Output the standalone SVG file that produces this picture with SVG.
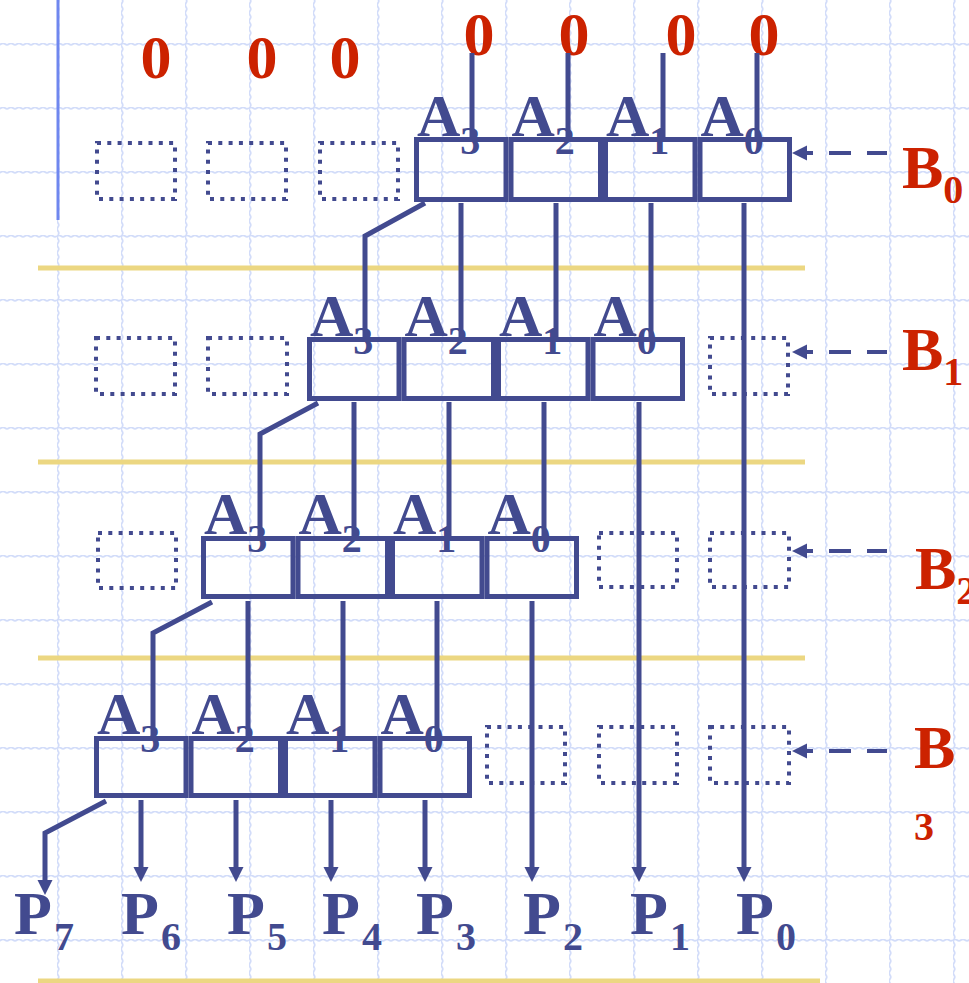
<svg xmlns="http://www.w3.org/2000/svg" width="969" height="983" viewBox="0 0 969 983">
<style>
.cell{fill:none;stroke:#424a8f;stroke-width:5}
.dot{fill:none;stroke:#424a8f;stroke-width:4;stroke-dasharray:4 6.3}
.wire{fill:none;stroke:#424a8f;stroke-width:5}
.barrow{fill:none;stroke:#424a8f;stroke-width:4;stroke-dasharray:20 16 22 16 20}
.sep{stroke:#ecd782;stroke-width:5}
.lbl{font-family:"Liberation Serif","Times New Roman",serif;font-weight:bold;fill:#424a8f}
.red{font-family:"Liberation Serif","Times New Roman",serif;font-weight:bold;fill:#cc2200}
.gl{fill:none;stroke:#d2dcf9;stroke-width:1.8}
</style>
<defs>
<pattern id="grid" patternUnits="userSpaceOnUse" x="57" y="43" width="64" height="64">
<path class="gl" d="M0,1 q2,-1.5 4,0 t4,0 t4,0 t4,0 t4,0 t4,0 t4,0 t4,0 t4,0 t4,0 t4,0 t4,0 t4,0 t4,0 t4,0 t4,0"/>
<path class="gl" d="M1,0 q-1.5,2 0,4 t0,4 t0,4 t0,4 t0,4 t0,4 t0,4 t0,4 t0,4 t0,4 t0,4 t0,4 t0,4 t0,4 t0,4 t0,4"/>
</pattern>
<marker id="ah" markerUnits="userSpaceOnUse" markerWidth="16" markerHeight="16" refX="7" refY="7.5" orient="auto">
<path d="M0,0 L15,7.5 L0,15 z" fill="#424a8f"/>
</marker>
</defs>
<rect width="969" height="983" fill="#ffffff"/>
<rect width="969" height="983" fill="url(#grid)"/>
<line x1="58" y1="0" x2="58" y2="220" stroke="#6f87ef" stroke-width="3"/>
<g id="separators">
<line class="sep" x1="38" y1="268" x2="805" y2="268"/>
<line class="sep" x1="38" y1="462" x2="805" y2="462"/>
<line class="sep" x1="38" y1="658" x2="805" y2="658"/>
<line class="sep" x1="38" y1="981" x2="820" y2="981"/>
</g>
<g id="zeros">
<text class="red" font-size="62" text-anchor="middle" x="156" y="78">0</text>
<text class="red" font-size="62" text-anchor="middle" x="262" y="78">0</text>
<text class="red" font-size="62" text-anchor="middle" x="345" y="78">0</text>
<text class="red" font-size="62" text-anchor="middle" x="479" y="55">0</text>
<text class="red" font-size="62" text-anchor="middle" x="574" y="55">0</text>
<text class="red" font-size="62" text-anchor="middle" x="681" y="55">0</text>
<text class="red" font-size="62" text-anchor="middle" x="764" y="55">0</text>
</g>
<g id="placeholders">
<rect class="dot" x="97" y="143" width="78" height="56"/>
<rect class="dot" x="208" y="143" width="78" height="56"/>
<rect class="dot" x="320" y="143" width="78" height="56"/>
<rect class="dot" x="96" y="338" width="79" height="56"/>
<rect class="dot" x="208" y="338" width="79" height="56"/>
<rect class="dot" x="710" y="338" width="78" height="56"/>
<rect class="dot" x="98" y="533" width="78" height="55"/>
<rect class="dot" x="599" y="533" width="78" height="54"/>
<rect class="dot" x="710" y="533" width="79" height="54"/>
<rect class="dot" x="487" y="727" width="78" height="56"/>
<rect class="dot" x="599" y="727" width="78" height="56"/>
<rect class="dot" x="710" y="727" width="79" height="56"/>
</g>
<g id="connectors">
<path class="wire" d="M472,53V137M568,53V137M663,53V137M757,53V137"/>
<path class="wire" d="M425,203L365,236V337M461,203V337M556,203V337M651,203V337"/>
<path class="wire" d="M318,403L260,434V536M354,402V536M449,402V536M544,402V536"/>
<path class="wire" d="M212,602L153,633V736M248,601V736M343,601V736M437,601V736"/>
<path class="wire" d="M744,203V874" marker-end="url(#ah)"/>
<path class="wire" d="M639,402V874" marker-end="url(#ah)"/>
<path class="wire" d="M532,601V874" marker-end="url(#ah)"/>
<path class="wire" d="M106,801L45,833V887" marker-end="url(#ah)"/>
<path class="wire" d="M141,800V874" marker-end="url(#ah)"/>
<path class="wire" d="M236,800V874" marker-end="url(#ah)"/>
<path class="wire" d="M331,800V874" marker-end="url(#ah)"/>
<path class="wire" d="M425,800V874" marker-end="url(#ah)"/>
<path class="barrow" d="M887,153H800" marker-end="url(#ah)"/>
<path class="barrow" d="M887,352H800" marker-end="url(#ah)"/>
<path class="barrow" d="M887,551H800" marker-end="url(#ah)"/>
<path class="barrow" d="M887,751H800" marker-end="url(#ah)"/>
</g>
<g id="reg-b0">
<rect class="cell" x="416.5" y="139.5" width="89.5" height="60"/>
<rect class="cell" x="511" y="139.5" width="89.5" height="60"/>
<rect class="cell" x="605.5" y="139.5" width="89.5" height="60"/>
<rect class="cell" x="700" y="139.5" width="89.5" height="60"/>
<text class="lbl" font-size="60" x="417" y="136">A<tspan font-size="40" dy="18">3</tspan></text>
<text class="lbl" font-size="60" x="511.5" y="136">A<tspan font-size="40" dy="18">2</tspan></text>
<text class="lbl" font-size="60" x="606" y="136">A<tspan font-size="40" dy="18">1</tspan></text>
<text class="lbl" font-size="60" x="700.5" y="136">A<tspan font-size="40" dy="18">0</tspan></text>
</g>
<g id="reg-b1">
<rect class="cell" x="309.5" y="339.5" width="89.5" height="59"/>
<rect class="cell" x="404" y="339.5" width="89.5" height="59"/>
<rect class="cell" x="498.5" y="339.5" width="89.5" height="59"/>
<rect class="cell" x="593" y="339.5" width="89.5" height="59"/>
<text class="lbl" font-size="60" x="310" y="336">A<tspan font-size="40" dy="18">3</tspan></text>
<text class="lbl" font-size="60" x="404.5" y="336">A<tspan font-size="40" dy="18">2</tspan></text>
<text class="lbl" font-size="60" x="499" y="336">A<tspan font-size="40" dy="18">1</tspan></text>
<text class="lbl" font-size="60" x="593.5" y="336">A<tspan font-size="40" dy="18">0</tspan></text>
</g>
<g id="reg-b2">
<rect class="cell" x="203.5" y="538.5" width="89.5" height="58"/>
<rect class="cell" x="298" y="538.5" width="89.5" height="58"/>
<rect class="cell" x="392.5" y="538.5" width="89.5" height="58"/>
<rect class="cell" x="487" y="538.5" width="89.5" height="58"/>
<text class="lbl" font-size="60" x="204" y="534">A<tspan font-size="40" dy="18">3</tspan></text>
<text class="lbl" font-size="60" x="298.5" y="534">A<tspan font-size="40" dy="18">2</tspan></text>
<text class="lbl" font-size="60" x="393" y="534">A<tspan font-size="40" dy="18">1</tspan></text>
<text class="lbl" font-size="60" x="487.5" y="534">A<tspan font-size="40" dy="18">0</tspan></text>
</g>
<g id="reg-b3">
<rect class="cell" x="96.5" y="738.5" width="89.5" height="57"/>
<rect class="cell" x="191" y="738.5" width="89.5" height="57"/>
<rect class="cell" x="285.5" y="738.5" width="89.5" height="57"/>
<rect class="cell" x="380" y="738.5" width="89.5" height="57"/>
<text class="lbl" font-size="60" x="97" y="734">A<tspan font-size="40" dy="18">3</tspan></text>
<text class="lbl" font-size="60" x="191.5" y="734">A<tspan font-size="40" dy="18">2</tspan></text>
<text class="lbl" font-size="60" x="286" y="734">A<tspan font-size="40" dy="18">1</tspan></text>
<text class="lbl" font-size="60" x="380.5" y="734">A<tspan font-size="40" dy="18">0</tspan></text>
</g>
<g id="b-labels">
<text class="red" font-size="62" x="902" y="188">B<tspan font-size="40" dy="15">0</tspan></text>
<text class="red" font-size="62" x="902" y="370">B<tspan font-size="40" dy="15">1</tspan></text>
<text class="red" font-size="62" x="915" y="589">B<tspan font-size="40" dy="15">2</tspan></text>
<text class="red" font-size="62" x="914" y="768">B</text>
<text class="red" font-size="40" x="914" y="840">3</text>
</g>
<g id="p-labels">
<text class="lbl" font-size="62" x="14" y="934">P<tspan font-size="40" dx="2" dy="16">7</tspan></text>
<text class="lbl" font-size="62" x="121" y="934">P<tspan font-size="40" dx="2" dy="16">6</tspan></text>
<text class="lbl" font-size="62" x="227" y="934">P<tspan font-size="40" dx="2" dy="16">5</tspan></text>
<text class="lbl" font-size="62" x="322" y="934">P<tspan font-size="40" dx="2" dy="16">4</tspan></text>
<text class="lbl" font-size="62" x="416" y="934">P<tspan font-size="40" dx="2" dy="16">3</tspan></text>
<text class="lbl" font-size="62" x="523" y="934">P<tspan font-size="40" dx="2" dy="16">2</tspan></text>
<text class="lbl" font-size="62" x="630" y="934">P<tspan font-size="40" dx="2" dy="16">1</tspan></text>
<text class="lbl" font-size="62" x="736" y="934">P<tspan font-size="40" dx="2" dy="16">0</tspan></text>
</g>
</svg>
